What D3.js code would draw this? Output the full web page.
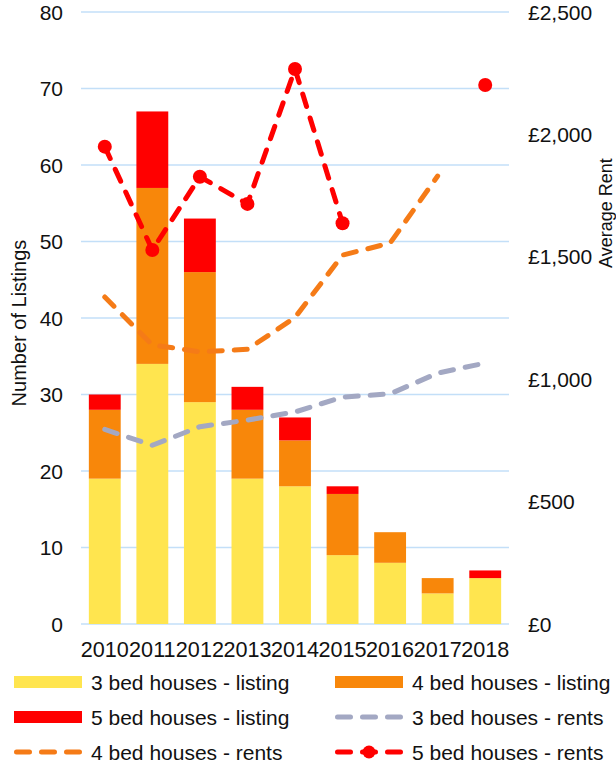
<!DOCTYPE html>
<html>
<head>
<meta charset="utf-8">
<script src="https://cdn.jsdelivr.net/npm/d3@7"></script>
<style>
  html, body { margin: 0; padding: 0; background: #fff; }
  svg { display: block; font-family: "Liberation Sans", Arial, sans-serif; }
</style>
</head>
<body>
<svg id="chart" width="616" height="764"></svg>
<script>
const years = ["2010","2011","2012","2013","2014","2015","2016","2017","2018"];
const bed3Listing = [19, 34, 29, 19, 18, 9, 8, 4, 6];
const bed4Listing = [9, 23, 17, 9, 6, 8, 4, 2, 0];
const bed5Listing = [2, 10, 7, 3, 3, 1, 0, 0, 1];
const bed3Rents = [795, 730, 806, 833, 866, 927, 940, 1025, 1066];
const bed4Rents = [1336, 1140, 1112, 1122, 1252, 1507, 1556, 1830, null];
const bed5Rents = [1950, 1528, 1827, 1716, 2267, 1637, null, null, 2202];
const leftTicks = [0, 10, 20, 30, 40, 50, 60, 70, 80];
const rightTicks = [0, 500, 1000, 1500, 2000, 2500];

const colors = {
  b3: "#FFE54F", b4: "#F8870A", b5: "#FF0000",
  r3: "#A3A8C3", r4: "#F57B17", r5: "#FF0000", grid: "#C3DFF8"
};

const svg = d3.select("#chart");
const L = 81, R = 509, T = 12, B = 624;

const x = d3.scaleBand().domain(years).range([L, R]).paddingInner(0.33).paddingOuter(0.165);
const xc = d => x(d) + x.bandwidth() / 2;
const yL = d3.scaleLinear().domain([0, 80]).range([B, T]);
const yR = d3.scaleLinear().domain([0, 2500]).range([B, T]);

// gridlines
svg.append("g").selectAll("line").data(leftTicks).join("line")
  .attr("x1", L).attr("x2", R)
  .attr("y1", d => yL(d)).attr("y2", d => yL(d))
  .attr("stroke", colors.grid).attr("stroke-width", 1.5);

// left axis labels
svg.append("g").selectAll("text").data(leftTicks).join("text")
  .attr("x", 63).attr("y", d => yL(d)).attr("dy", "0.36em")
  .attr("text-anchor", "end").attr("font-size", 21).attr("fill", "#111")
  .text(d => d);

// right axis labels
const fmt = d => "£" + d3.format(",")(d);
svg.append("g").selectAll("text").data(rightTicks).join("text")
  .attr("x", 528).attr("y", d => yR(d)).attr("dy", "0.36em")
  .attr("text-anchor", "start").attr("font-size", 21).attr("fill", "#111")
  .text(fmt);

// x labels
svg.append("g").selectAll("text").data(years).join("text")
  .attr("x", d => xc(d)).attr("y", 657)
  .attr("text-anchor", "middle").attr("font-size", 21.6).attr("fill", "#111")
  .text(d => d);

// axis titles
svg.append("text").attr("transform", "translate(26,323) rotate(-90)")
  .attr("text-anchor", "middle").attr("font-size", 20).attr("fill", "#111")
  .text("Number of Listings");
svg.append("text").attr("transform", "translate(612,213) rotate(-90)")
  .attr("text-anchor", "middle").attr("font-size", 18).attr("fill", "#111")
  .text("Average Rent");

// stacked bars
const rows = years.map((yr, i) => ({ year: yr, b3: bed3Listing[i], b4: bed4Listing[i], b5: bed5Listing[i] }));
const stack = d3.stack().keys(["b3", "b4", "b5"])(rows);
svg.append("g").selectAll("g").data(stack).join("g")
  .attr("fill", s => colors[s.key])
  .selectAll("rect").data(s => s).join("rect")
  .attr("x", d => x(d.data.year)).attr("width", x.bandwidth())
  .attr("y", d => yL(d[1])).attr("height", d => yL(d[0]) - yL(d[1]));

// lines
function drawLine(vals, color) {
  const line = d3.line().defined(d => d != null)
    .x((d, i) => xc(years[i])).y(d => yR(d));
  svg.append("path").datum(vals).attr("d", line)
    .attr("fill", "none").attr("stroke", color).attr("stroke-width", 5)
    .attr("stroke-dasharray", "13,12").attr("stroke-linecap", "round")
    .attr("stroke-linejoin", "round");
}
drawLine(bed3Rents, colors.r3);
drawLine(bed4Rents, colors.r4);
drawLine(bed5Rents, colors.r5);
svg.append("g").selectAll("circle")
  .data(bed5Rents.map((v, i) => ({ v, yr: years[i] })).filter(d => d.v != null))
  .join("circle").attr("cx", d => xc(d.yr)).attr("cy", d => yR(d.v))
  .attr("r", 7).attr("fill", colors.r5);

// legend
const legend = [
  { name: "3 bed houses - listing", type: "bar", color: colors.b3, col: 0, row: 0 },
  { name: "4 bed houses - listing", type: "bar", color: colors.b4, col: 1, row: 0 },
  { name: "5 bed houses - listing", type: "bar", color: colors.b5, col: 0, row: 1 },
  { name: "3 bed houses - rents", type: "line", color: colors.r3, col: 1, row: 1 },
  { name: "4 bed houses - rents", type: "line", color: colors.r4, col: 0, row: 2 },
  { name: "5 bed houses - rents", type: "dot", color: colors.r5, col: 1, row: 2 }
];
const colX = [14, 335], rowY = [682, 717, 752];
const lg = svg.append("g").selectAll("g").data(legend).join("g")
  .attr("transform", d => `translate(${colX[d.col]},${rowY[d.row]})`);
lg.filter(d => d.type === "bar").append("rect")
  .attr("x", 0).attr("y", -6).attr("width", 68).attr("height", 12).attr("fill", d => d.color);
lg.filter(d => d.type !== "bar").append("line")
  .attr("x1", 2.5).attr("x2", 65.5).attr("y1", 0).attr("y2", 0)
  .attr("stroke", d => d.color).attr("stroke-width", 5)
  .attr("stroke-dasharray", "13,12").attr("stroke-linecap", "round");
lg.filter(d => d.type === "dot").append("circle")
  .attr("cx", 34).attr("cy", 0).attr("r", 6.5).attr("fill", d => d.color);
lg.append("text").attr("x", 77).attr("y", 0).attr("dy", "0.36em")
  .attr("font-size", 21).attr("fill", "#111").text(d => d.name);
</script>
</body>
</html>
